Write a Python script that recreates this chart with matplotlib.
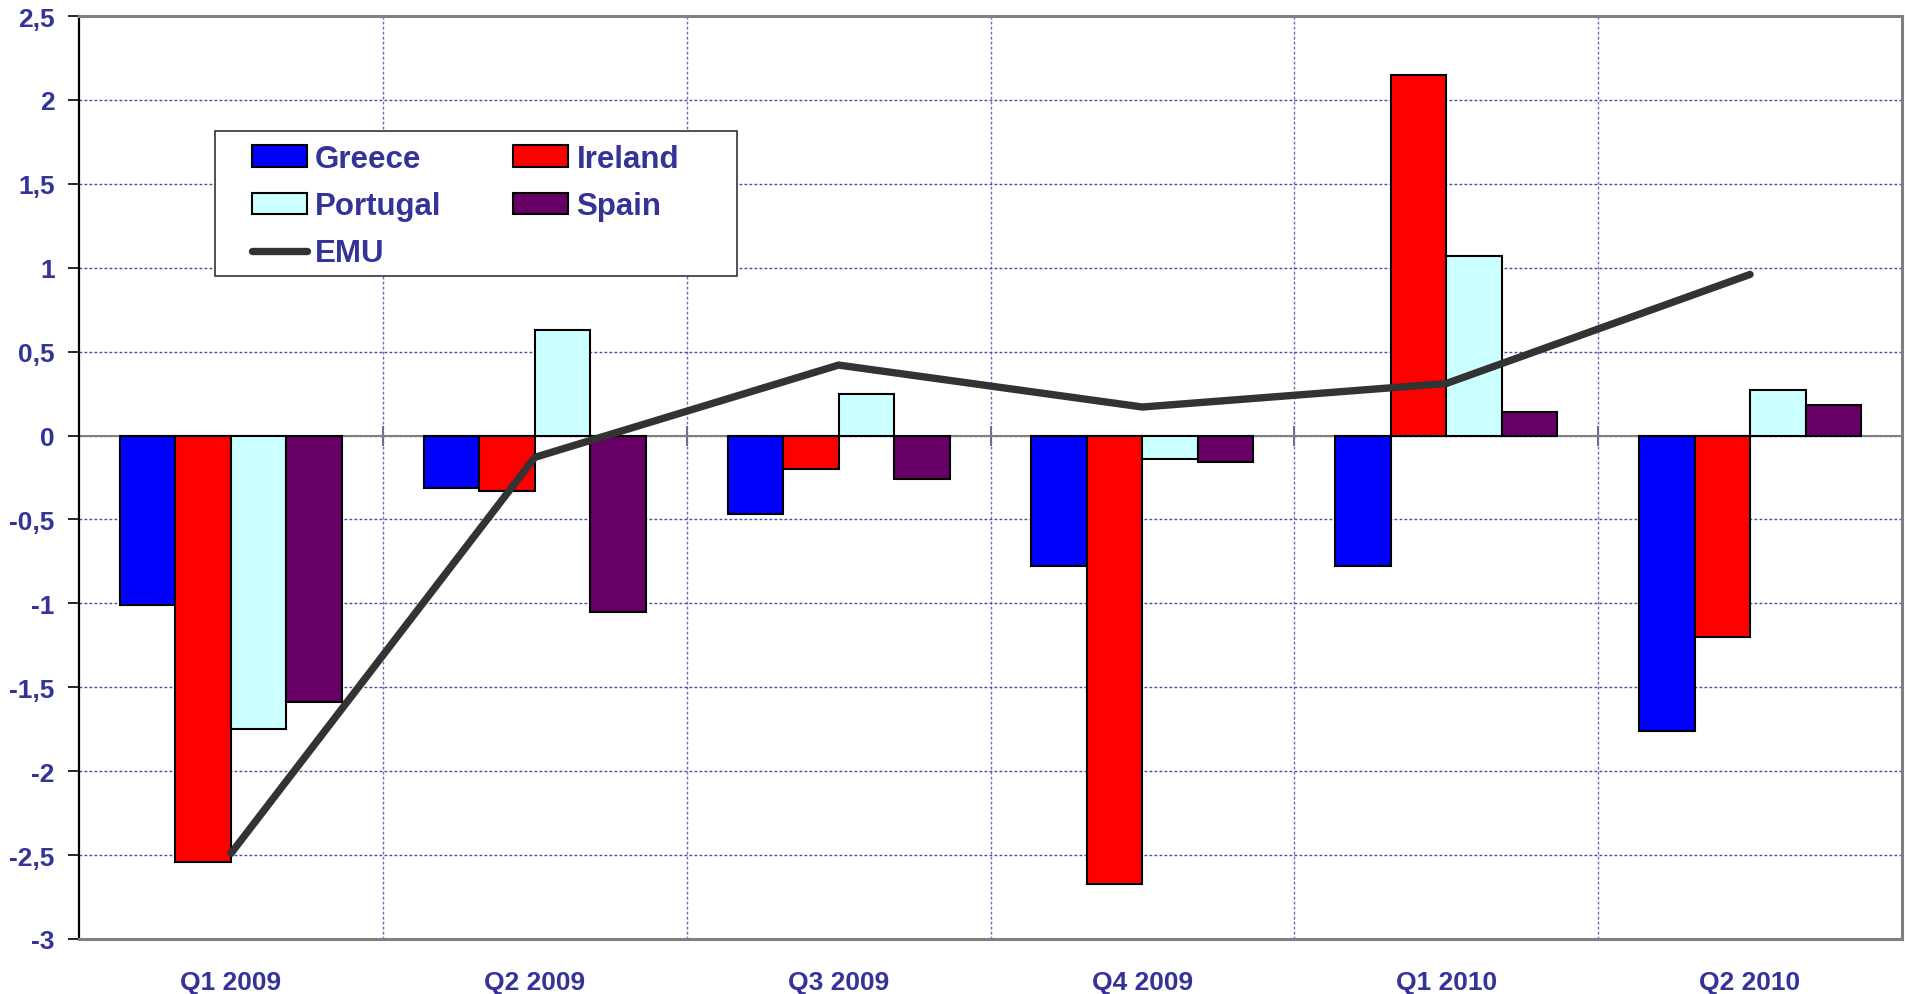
import matplotlib
matplotlib.use("Agg")
import matplotlib.pyplot as plt
from matplotlib.patches import Rectangle
from matplotlib.ticker import FuncFormatter
import numpy as np

plt.rcParams['font.family'] = ['Liberation Sans', 'DejaVu Sans']
plt.rcParams['font.weight'] = 'bold'

quarters = ['Q1 2009', 'Q2 2009', 'Q3 2009', 'Q4 2009', 'Q1 2010', 'Q2 2010']
greece = [-1.01, -0.31, -0.47, -0.78, -0.78, -1.76]
ireland = [-2.54, -0.33, -0.20, -2.67, 2.15, -1.20]
portugal = [-1.75, 0.63, 0.25, -0.14, 1.07, 0.27]
spain = [-1.59, -1.05, -0.26, -0.16, 0.14, 0.18]
emu = [-2.49, -0.13, 0.42, 0.17, 0.31, 0.96]

navy = '#333399'
grid_col = '#4a4aa6'

fig = plt.figure(figsize=(19.05, 9.95), dpi=100)
ax = fig.add_axes([0.0415, 0.0553, 0.9569, 0.9276])

x = np.arange(len(quarters))
w = 0.1826
series = [('Greece', greece, '#0000ff'), ('Ireland', ireland, '#ff0000'),
          ('Portugal', portugal, '#ccffff'), ('Spain', spain, '#660066')]
bars = {}
for i, (name, vals, col) in enumerate(series):
    bars[name] = ax.bar(x + (i - 1.5) * w, vals, width=w, color=col,
                        edgecolor='black', linewidth=1.5, label=name, zorder=3)

line, = ax.plot(x, emu, color='#333333', linewidth=5.3, solid_capstyle='round',
                solid_joinstyle='miter', label='EMU', zorder=4)

ax.axhline(0, color='#808080', linewidth=1.5, zorder=2)

ax.set_xlim(-0.5, 5.5)
ax.set_ylim(-3, 2.5)

# y axis: comma decimals
ax.set_yticks(np.arange(-3, 2.51, 0.5))
ax.yaxis.set_major_formatter(FuncFormatter(
    lambda v, p: ('%g' % round(v, 1)).replace('.', ',')))
ax.tick_params(axis='y', direction='out', length=8, width=1.2, pad=9.5,
               labelsize=19, labelcolor=navy, color='black')
ax.grid(axis='y', which='major', color=grid_col, linestyle=(0, (2, 1.6)),
        linewidth=1.0, zorder=0)

# x axis: labels at category centres, grid at boundaries
ax.set_xticks(x)
ax.set_xticklabels(quarters)
ax.set_xticks(np.arange(0.5, 5.5, 1), minor=True)
ax.tick_params(axis='x', which='major', length=0, pad=22, labelsize=19,
               labelcolor=navy)
ax.tick_params(axis='x', which='minor', length=0)
ax.grid(axis='x', which='minor', color='#6a6ab8', linestyle=(0, (2, 1.6)),
        linewidth=1.0, zorder=0)

# small ticks where the category axis crosses zero
zero_ax = ax.secondary_xaxis(3 / 5.5)
zero_ax.set_xticks(np.arange(0.5, 5.5, 1))
zero_ax.tick_params(direction='inout', length=14, width=1.2, color='#555555',
                    labelbottom=False, labeltop=False)
zero_ax.spines['top'].set_visible(False)
zero_ax.spines['bottom'].set_visible(False)

for s in ['top', 'right', 'bottom']:
    ax.spines[s].set_color('#808080')
    ax.spines[s].set_linewidth(2.2)
ax.spines['left'].set_color('black')
ax.spines['left'].set_linewidth(1.6)

# legend box
ax.add_patch(Rectangle((0.0746, 0.7183), 0.2864, 0.1571, transform=ax.transAxes,
                       facecolor='white', edgecolor='#333333', linewidth=1.2,
                       zorder=5))
# column-wise fill: first column Greece/Portugal/EMU, second Ireland/Spain
order = [bars['Greece'], bars['Portugal'], line, bars['Ireland'], bars['Spain']]
labels = ['Greece', 'Portugal', 'EMU', 'Ireland', 'Spain']
leg = ax.legend(order, labels,
                ncol=2, loc='upper left', bbox_to_anchor=(0.0948, 0.8613),
                frameon=False, borderpad=0, borderaxespad=0,
                fontsize=22.5, handlelength=1.76, handleheight=0.67,
                handletextpad=0.26, columnspacing=2.3, labelspacing=0.55)
leg.set_zorder(6)
for t in leg.get_texts():
    t.set_color(navy)

fig.savefig('out.png', dpi=100)
